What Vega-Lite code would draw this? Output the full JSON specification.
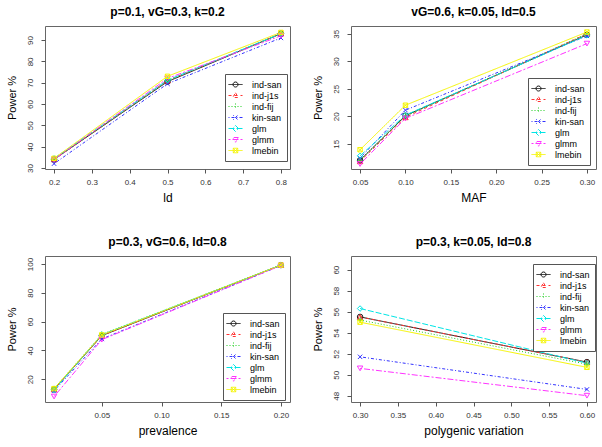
{
  "$schema": "https://vega.github.io/schema/vega-lite/v6.json",
  "padding": {"left": 5, "top": 5, "right": 5, "bottom": 5},
  "background": "white",
  "datasets": {
    "p1": [
      {"x": 0.2, "power": 34, "method": "ind-san"}, {"x": 0.5, "power": 70.5, "method": "ind-san"}, {"x": 0.8, "power": 93, "method": "ind-san"},
      {"x": 0.2, "power": 34, "method": "ind-j1s"}, {"x": 0.5, "power": 71, "method": "ind-j1s"}, {"x": 0.8, "power": 93, "method": "ind-j1s"},
      {"x": 0.2, "power": 34, "method": "ind-fij"}, {"x": 0.5, "power": 71, "method": "ind-fij"}, {"x": 0.8, "power": 93, "method": "ind-fij"},
      {"x": 0.2, "power": 32, "method": "kin-san"}, {"x": 0.5, "power": 69.5, "method": "kin-san"}, {"x": 0.8, "power": 91, "method": "kin-san"},
      {"x": 0.2, "power": 34.5, "method": "glm"}, {"x": 0.5, "power": 71.2, "method": "glm"}, {"x": 0.8, "power": 93, "method": "glm"},
      {"x": 0.2, "power": 34, "method": "glmm"}, {"x": 0.5, "power": 72, "method": "glmm"}, {"x": 0.8, "power": 92, "method": "glmm"},
      {"x": 0.2, "power": 34.5, "method": "lmebin"}, {"x": 0.5, "power": 73, "method": "lmebin"}, {"x": 0.8, "power": 93.6, "method": "lmebin"}
    ],
    "p2": [
      {"x": 0.05, "power": 12.0, "method": "ind-san"}, {"x": 0.1, "power": 20.1, "method": "ind-san"}, {"x": 0.3, "power": 34.8, "method": "ind-san"},
      {"x": 0.05, "power": 11.8, "method": "ind-j1s"}, {"x": 0.1, "power": 19.8, "method": "ind-j1s"}, {"x": 0.3, "power": 35.0, "method": "ind-j1s"},
      {"x": 0.05, "power": 12.0, "method": "ind-fij"}, {"x": 0.1, "power": 20.0, "method": "ind-fij"}, {"x": 0.3, "power": 35.0, "method": "ind-fij"},
      {"x": 0.05, "power": 12.4, "method": "kin-san"}, {"x": 0.1, "power": 21.1, "method": "kin-san"}, {"x": 0.3, "power": 34.6, "method": "kin-san"},
      {"x": 0.05, "power": 12.8, "method": "glm"}, {"x": 0.1, "power": 20.2, "method": "glm"}, {"x": 0.3, "power": 34.7, "method": "glm"},
      {"x": 0.05, "power": 11.3, "method": "glmm"}, {"x": 0.1, "power": 19.6, "method": "glmm"}, {"x": 0.3, "power": 33.2, "method": "glmm"},
      {"x": 0.05, "power": 13.9, "method": "lmebin"}, {"x": 0.1, "power": 22.0, "method": "lmebin"}, {"x": 0.3, "power": 35.3, "method": "lmebin"}
    ],
    "p3": [
      {"x": 0.01, "power": 13, "method": "ind-san"}, {"x": 0.05, "power": 50.3, "method": "ind-san"}, {"x": 0.2, "power": 99.3, "method": "ind-san"},
      {"x": 0.01, "power": 13, "method": "ind-j1s"}, {"x": 0.05, "power": 50.3, "method": "ind-j1s"}, {"x": 0.2, "power": 99.3, "method": "ind-j1s"},
      {"x": 0.01, "power": 13.5, "method": "ind-fij"}, {"x": 0.05, "power": 51.2, "method": "ind-fij"}, {"x": 0.2, "power": 99.3, "method": "ind-fij"},
      {"x": 0.01, "power": 12, "method": "kin-san"}, {"x": 0.05, "power": 48, "method": "kin-san"}, {"x": 0.2, "power": 99, "method": "kin-san"},
      {"x": 0.01, "power": 12.5, "method": "glm"}, {"x": 0.05, "power": 51, "method": "glm"}, {"x": 0.2, "power": 99.3, "method": "glm"},
      {"x": 0.01, "power": 8, "method": "glmm"}, {"x": 0.05, "power": 47.5, "method": "glmm"}, {"x": 0.2, "power": 99, "method": "glmm"},
      {"x": 0.01, "power": 13.5, "method": "lmebin"}, {"x": 0.05, "power": 50.8, "method": "lmebin"}, {"x": 0.2, "power": 99.3, "method": "lmebin"}
    ],
    "p4": [
      {"x": 0.3, "power": 55.5, "method": "ind-san"}, {"x": 0.6, "power": 51.2, "method": "ind-san"},
      {"x": 0.3, "power": 55.5, "method": "ind-j1s"}, {"x": 0.6, "power": 51.2, "method": "ind-j1s"},
      {"x": 0.3, "power": 55.2, "method": "ind-fij"}, {"x": 0.6, "power": 51.0, "method": "ind-fij"},
      {"x": 0.3, "power": 51.7, "method": "kin-san"}, {"x": 0.6, "power": 48.6, "method": "kin-san"},
      {"x": 0.3, "power": 56.3, "method": "glm"}, {"x": 0.6, "power": 51.1, "method": "glm"},
      {"x": 0.3, "power": 50.6, "method": "glmm"}, {"x": 0.6, "power": 48.0, "method": "glmm"},
      {"x": 0.3, "power": 55.0, "method": "lmebin"}, {"x": 0.6, "power": 50.7, "method": "lmebin"}
    ]
  },
  "columns": 2,
  "spacing": {"column": 20, "row": 31},
  "concat": [
    {
      "title": "p=0.1, vG=0.3, k=0.2",
      "width": 245, "height": 143,
      "data": {"name": "p1"},
      "encoding": {
        "x": {"field": "x", "type": "quantitative", "title": "ld",
              "scale": {"domain": [0.176, 0.824], "nice": false, "zero": false},
              "axis": {"values": [0.2, 0.3, 0.4, 0.5, 0.6, 0.7, 0.8], "format": ".1f"}},
        "y": {"field": "power", "type": "quantitative", "title": "Power %",
              "scale": {"domain": [29.5, 96.6], "nice": false, "zero": false},
              "axis": {"values": [30, 40, 50, 60, 70, 80, 90]}},
        "color": {"field": "method", "type": "nominal",
                  "scale": {"domain": ["ind-san", "ind-j1s", "ind-fij", "kin-san", "glm", "glmm", "lmebin"], "range": ["#111111", "#ff3333", "#22cc22", "#3333ff", "#00e5e5", "#ff33ff", "#f5f500"]},
                  "legend": {"legendX": 180, "legendY": 48, "encode": {"symbols": {"update": {"shape": {"signal": "datum.value === 'ind-san' ? 'M-1.4,0H1.4M0.5,0A0.5,0.5,0,1,1,-0.5,0A0.5,0.5,0,1,1,0.5,0' : datum.value === 'ind-j1s' ? 'M-1.4,0H1.4M0,-0.55L0.55,0.4L-0.55,0.4Z' : datum.value === 'ind-fij' ? 'M-1.4,0H1.4M0,-0.6V0.6' : datum.value === 'kin-san' ? 'M-1.4,0H1.4M-0.45,-0.45L0.45,0.45M-0.45,0.45L0.45,-0.45' : datum.value === 'glm' ? 'M-1.4,0H1.4M0,-0.6L0.6,0L0,0.6L-0.6,0Z' : datum.value === 'glmm' ? 'M-1.4,0H1.4M0,0.55L0.55,-0.4L-0.55,-0.4Z' : 'M-1.4,0H1.4M-0.45,-0.45H0.45V0.45H-0.45ZM-0.45,-0.45L0.45,0.45M-0.45,0.45L0.45,-0.45'"}, "fill": {"value": "transparent"}}}}}}
      },
      "layer": [
        {"mark": {"type": "line", "strokeWidth": 1},
         "encoding": {"strokeDash": {"field": "method", "type": "nominal",
            "scale": {"domain": ["ind-san", "ind-j1s", "ind-fij", "kin-san", "glm", "glmm", "lmebin"], "range": [[1, 0], [3, 3], [1, 2], [1, 2, 3, 2], [6, 2], [2, 2, 6, 2], [1, 0]]},
            "legend": {"legendX": 180, "legendY": 48}}}},
        {"mark": {"type": "point", "filled": false, "size": 30, "strokeWidth": 1, "opacity": 1},
         "encoding": {"shape": {"condition": [
            {"test": "datum.method === 'ind-j1s'", "value": "triangle-up"},
            {"test": "datum.method === 'ind-fij'", "value": "M0,-1V1M-1,0H1"},
            {"test": "datum.method === 'kin-san'", "value": "M-0.8,-0.8L0.8,0.8M-0.8,0.8L0.8,-0.8"},
            {"test": "datum.method === 'glm'", "value": "diamond"},
            {"test": "datum.method === 'glmm'", "value": "triangle-down"},
            {"test": "datum.method === 'lmebin'", "value": "M-0.8,-0.8H0.8V0.8H-0.8ZM-0.8,-0.8L0.8,0.8M-0.8,0.8L0.8,-0.8"}], "value": "circle"}}}
      ]
    },
    {
      "title": "vG=0.6, k=0.05, ld=0.5",
      "width": 245, "height": 143,
      "data": {"name": "p2"},
      "encoding": {
        "x": {"field": "x", "type": "quantitative", "title": "MAF",
              "scale": {"domain": [0.04, 0.31], "nice": false, "zero": false},
              "axis": {"values": [0.05, 0.1, 0.15, 0.2, 0.25, 0.3], "format": ".2f"}},
        "y": {"field": "power", "type": "quantitative", "title": "Power %",
              "scale": {"domain": [10.4, 36.4], "nice": false, "zero": false},
              "axis": {"values": [15, 20, 25, 30, 35]}},
        "color": {"field": "method", "type": "nominal",
                  "scale": {"domain": ["ind-san", "ind-j1s", "ind-fij", "kin-san", "glm", "glmm", "lmebin"], "range": ["#111111", "#ff3333", "#22cc22", "#3333ff", "#00e5e5", "#ff33ff", "#f5f500"]},
                  "legend": {"legendX": 177, "legendY": 52, "encode": {"symbols": {"update": {"shape": {"signal": "datum.value === 'ind-san' ? 'M-1.4,0H1.4M0.5,0A0.5,0.5,0,1,1,-0.5,0A0.5,0.5,0,1,1,0.5,0' : datum.value === 'ind-j1s' ? 'M-1.4,0H1.4M0,-0.55L0.55,0.4L-0.55,0.4Z' : datum.value === 'ind-fij' ? 'M-1.4,0H1.4M0,-0.6V0.6' : datum.value === 'kin-san' ? 'M-1.4,0H1.4M-0.45,-0.45L0.45,0.45M-0.45,0.45L0.45,-0.45' : datum.value === 'glm' ? 'M-1.4,0H1.4M0,-0.6L0.6,0L0,0.6L-0.6,0Z' : datum.value === 'glmm' ? 'M-1.4,0H1.4M0,0.55L0.55,-0.4L-0.55,-0.4Z' : 'M-1.4,0H1.4M-0.45,-0.45H0.45V0.45H-0.45ZM-0.45,-0.45L0.45,0.45M-0.45,0.45L0.45,-0.45'"}, "fill": {"value": "transparent"}}}}}}
      },
      "layer": [
        {"mark": {"type": "line", "strokeWidth": 1},
         "encoding": {"strokeDash": {"field": "method", "type": "nominal",
            "scale": {"domain": ["ind-san", "ind-j1s", "ind-fij", "kin-san", "glm", "glmm", "lmebin"], "range": [[1, 0], [3, 3], [1, 2], [1, 2, 3, 2], [6, 2], [2, 2, 6, 2], [1, 0]]},
            "legend": {"legendX": 177, "legendY": 52}}}},
        {"mark": {"type": "point", "filled": false, "size": 30, "strokeWidth": 1, "opacity": 1},
         "encoding": {"shape": {"condition": [
            {"test": "datum.method === 'ind-j1s'", "value": "triangle-up"},
            {"test": "datum.method === 'ind-fij'", "value": "M0,-1V1M-1,0H1"},
            {"test": "datum.method === 'kin-san'", "value": "M-0.8,-0.8L0.8,0.8M-0.8,0.8L0.8,-0.8"},
            {"test": "datum.method === 'glm'", "value": "diamond"},
            {"test": "datum.method === 'glmm'", "value": "triangle-down"},
            {"test": "datum.method === 'lmebin'", "value": "M-0.8,-0.8H0.8V0.8H-0.8ZM-0.8,-0.8L0.8,0.8M-0.8,0.8L0.8,-0.8"}], "value": "circle"}}}
      ]
    },
    {
      "title": "p=0.3, vG=0.6, ld=0.8",
      "width": 245, "height": 146,
      "data": {"name": "p3"},
      "encoding": {
        "x": {"field": "x", "type": "quantitative", "title": "prevalence",
              "scale": {"domain": [0.0024, 0.2076], "nice": false, "zero": false},
              "axis": {"values": [0.05, 0.1, 0.15, 0.2], "format": ".2f"}},
        "y": {"field": "power", "type": "quantitative", "title": "Power %",
              "scale": {"domain": [4.2, 105.6], "nice": false, "zero": false},
              "axis": {"values": [20, 40, 60, 80, 100]}},
        "color": {"field": "method", "type": "nominal",
                  "scale": {"domain": ["ind-san", "ind-j1s", "ind-fij", "kin-san", "glm", "glmm", "lmebin"], "range": ["#111111", "#ff3333", "#22cc22", "#3333ff", "#00e5e5", "#ff33ff", "#f5f500"]},
                  "legend": {"legendX": 178, "legendY": 57, "encode": {"symbols": {"update": {"shape": {"signal": "datum.value === 'ind-san' ? 'M-1.4,0H1.4M0.5,0A0.5,0.5,0,1,1,-0.5,0A0.5,0.5,0,1,1,0.5,0' : datum.value === 'ind-j1s' ? 'M-1.4,0H1.4M0,-0.55L0.55,0.4L-0.55,0.4Z' : datum.value === 'ind-fij' ? 'M-1.4,0H1.4M0,-0.6V0.6' : datum.value === 'kin-san' ? 'M-1.4,0H1.4M-0.45,-0.45L0.45,0.45M-0.45,0.45L0.45,-0.45' : datum.value === 'glm' ? 'M-1.4,0H1.4M0,-0.6L0.6,0L0,0.6L-0.6,0Z' : datum.value === 'glmm' ? 'M-1.4,0H1.4M0,0.55L0.55,-0.4L-0.55,-0.4Z' : 'M-1.4,0H1.4M-0.45,-0.45H0.45V0.45H-0.45ZM-0.45,-0.45L0.45,0.45M-0.45,0.45L0.45,-0.45'"}, "fill": {"value": "transparent"}}}}}}
      },
      "layer": [
        {"mark": {"type": "line", "strokeWidth": 1},
         "encoding": {"strokeDash": {"field": "method", "type": "nominal",
            "scale": {"domain": ["ind-san", "ind-j1s", "ind-fij", "kin-san", "glm", "glmm", "lmebin"], "range": [[1, 0], [3, 3], [1, 2], [1, 2, 3, 2], [6, 2], [2, 2, 6, 2], [1, 0]]},
            "legend": {"legendX": 178, "legendY": 57}}}},
        {"mark": {"type": "point", "filled": false, "size": 30, "strokeWidth": 1, "opacity": 1},
         "encoding": {"shape": {"condition": [
            {"test": "datum.method === 'ind-j1s'", "value": "triangle-up"},
            {"test": "datum.method === 'ind-fij'", "value": "M0,-1V1M-1,0H1"},
            {"test": "datum.method === 'kin-san'", "value": "M-0.8,-0.8L0.8,0.8M-0.8,0.8L0.8,-0.8"},
            {"test": "datum.method === 'glm'", "value": "diamond"},
            {"test": "datum.method === 'glmm'", "value": "triangle-down"},
            {"test": "datum.method === 'lmebin'", "value": "M-0.8,-0.8H0.8V0.8H-0.8ZM-0.8,-0.8L0.8,0.8M-0.8,0.8L0.8,-0.8"}], "value": "circle"}}}
      ]
    },
    {
      "title": "p=0.3, k=0.05, ld=0.8",
      "width": 245, "height": 146,
      "data": {"name": "p4"},
      "encoding": {
        "x": {"field": "x", "type": "quantitative", "title": "polygenic variation",
              "scale": {"domain": [0.288, 0.612], "nice": false, "zero": false},
              "axis": {"values": [0.3, 0.35, 0.4, 0.45, 0.5, 0.55, 0.6], "format": ".2f"}},
        "y": {"field": "power", "type": "quantitative", "title": "Power %",
              "scale": {"domain": [47.4, 61.3], "nice": false, "zero": false},
              "axis": {"values": [48, 50, 52, 54, 56, 58, 60]}},
        "color": {"field": "method", "type": "nominal",
                  "scale": {"domain": ["ind-san", "ind-j1s", "ind-fij", "kin-san", "glm", "glmm", "lmebin"], "range": ["#111111", "#ff3333", "#22cc22", "#3333ff", "#00e5e5", "#ff33ff", "#f5f500"]},
                  "legend": {"legendX": 182, "legendY": 8, "encode": {"symbols": {"update": {"shape": {"signal": "datum.value === 'ind-san' ? 'M-1.4,0H1.4M0.5,0A0.5,0.5,0,1,1,-0.5,0A0.5,0.5,0,1,1,0.5,0' : datum.value === 'ind-j1s' ? 'M-1.4,0H1.4M0,-0.55L0.55,0.4L-0.55,0.4Z' : datum.value === 'ind-fij' ? 'M-1.4,0H1.4M0,-0.6V0.6' : datum.value === 'kin-san' ? 'M-1.4,0H1.4M-0.45,-0.45L0.45,0.45M-0.45,0.45L0.45,-0.45' : datum.value === 'glm' ? 'M-1.4,0H1.4M0,-0.6L0.6,0L0,0.6L-0.6,0Z' : datum.value === 'glmm' ? 'M-1.4,0H1.4M0,0.55L0.55,-0.4L-0.55,-0.4Z' : 'M-1.4,0H1.4M-0.45,-0.45H0.45V0.45H-0.45ZM-0.45,-0.45L0.45,0.45M-0.45,0.45L0.45,-0.45'"}, "fill": {"value": "transparent"}}}}}}
      },
      "layer": [
        {"mark": {"type": "line", "strokeWidth": 1},
         "encoding": {"strokeDash": {"field": "method", "type": "nominal",
            "scale": {"domain": ["ind-san", "ind-j1s", "ind-fij", "kin-san", "glm", "glmm", "lmebin"], "range": [[1, 0], [3, 3], [1, 2], [1, 2, 3, 2], [6, 2], [2, 2, 6, 2], [1, 0]]},
            "legend": {"legendX": 182, "legendY": 8}}}},
        {"mark": {"type": "point", "filled": false, "size": 30, "strokeWidth": 1, "opacity": 1},
         "encoding": {"shape": {"condition": [
            {"test": "datum.method === 'ind-j1s'", "value": "triangle-up"},
            {"test": "datum.method === 'ind-fij'", "value": "M0,-1V1M-1,0H1"},
            {"test": "datum.method === 'kin-san'", "value": "M-0.8,-0.8L0.8,0.8M-0.8,0.8L0.8,-0.8"},
            {"test": "datum.method === 'glm'", "value": "diamond"},
            {"test": "datum.method === 'glmm'", "value": "triangle-down"},
            {"test": "datum.method === 'lmebin'", "value": "M-0.8,-0.8H0.8V0.8H-0.8ZM-0.8,-0.8L0.8,0.8M-0.8,0.8L0.8,-0.8"}], "value": "circle"}}}
      ]
    }
  ],
  "resolve": {
    "scale": {"x": "independent", "y": "independent", "color": "independent", "strokeDash": "independent"},
    "legend": {"color": "independent", "strokeDash": "independent"}
  },
  "config": {
    "font": "Liberation Sans",
    "view": {"stroke": "#666666", "strokeWidth": 1},
    "title": {"fontSize": 12, "fontWeight": "bold", "font": "Liberation Sans", "color": "#000000", "anchor": "middle", "frame": "group", "offset": 7},
    "axis": {"grid": false, "domain": false, "tickColor": "#555555", "tickSize": 4, "labelFontSize": 8, "labelColor": "#333333", "labelFont": "Liberation Sans", "titleFont": "Liberation Sans", "titleFontWeight": "normal", "titleColor": "#000000"},
    "axisX": {"labelPadding": 5, "titleFontSize": 12, "titlePadding": 6},
    "axisY": {"labelAngle": -90, "labelPadding": 7, "titleFontSize": 11, "titlePadding": 9},
    "legend": {
      "orient": "none", "title": null, "strokeColor": "#555555", "fillColor": "white", "padding": 5,
      "labelFontSize": 9, "labelFont": "Liberation Sans", "labelColor": "#000000", "symbolSize": 100, "labelOffset": 11,
      "rowPadding": 0, "symbolStrokeWidth": 1, "symbolType": "stroke"
    },
    "point": {"opacity": 1}
  }
}
